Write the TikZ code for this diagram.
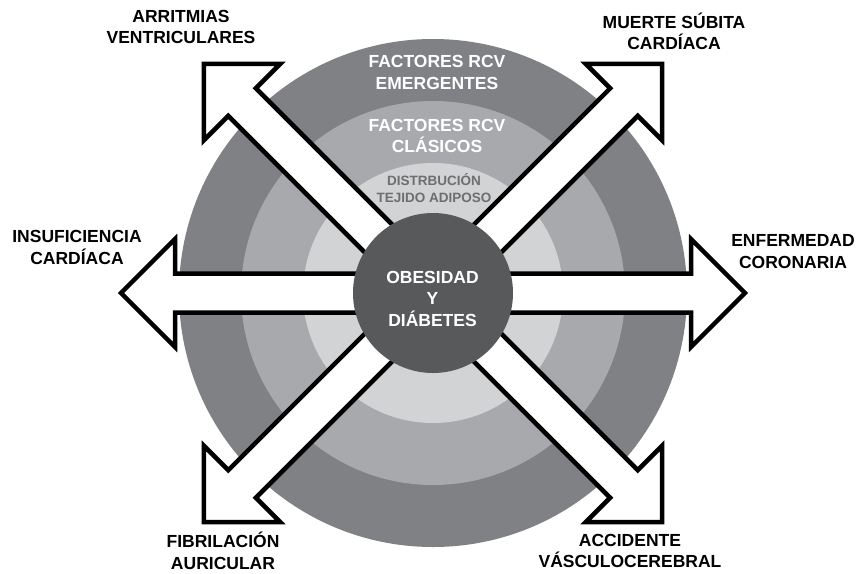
\documentclass[tikz,border=0pt]{standalone}
\usepackage{fontspec}
\setmainfont{Liberation Sans}
\definecolor{ringA}{HTML}{808184}
\definecolor{ringB}{HTML}{A7A9AC}
\definecolor{ringC}{HTML}{D1D3D4}
\definecolor{core}{HTML}{58595B}
\definecolor{innertext}{HTML}{6D6E71}
\tikzset{
  outlabel/.style={align=center, inner sep=0pt, font=\bfseries\fontsize{17.5}{21.5}\selectfont, text=black},
  ringlabel/.style={align=center, inner sep=0pt, font=\bfseries\fontsize{17.5}{21.5}\selectfont, text=white},
  smalllabel/.style={align=center, inner sep=0pt, font=\bfseries\fontsize{13.5}{16.5}\selectfont, text=innertext},
  arrowshape/.style={draw=black, fill=white, line width=4.5pt, line join=miter},
}
\newcommand{\bigarrow}[2]{%
  \begin{scope}[shift={(433,293)}, rotate=#1]
    \filldraw[arrowshape] (0,-19.5) -- (#2-54,-19.5) -- (#2-54,-54) -- (#2,0) -- (#2-54,54) -- (#2-54,19.5) -- (0,19.5) -- cycle;
  \end{scope}}
\begin{document}
\begin{tikzpicture}[x=1pt, y=-1pt]
\useasboundingbox (0,0) rectangle (864,573);
% rings
\coordinate (c) at (433,293);
\fill[ringA] (c) circle[radius=254];
\fill[ringB] (c) circle[radius=192];
\fill[ringC] (c) circle[radius=130];
% ring texts
\node[ringlabel] (emerg) at (437,72.5) {FACTORES RCV\\EMERGENTES};
\node[ringlabel] (clas) at (437,136) {FACTORES RCV\\CLÁSICOS};
\node[smalllabel] (dist) at (434,188) {DISTRBUCIÓN\\TEJIDO ADIPOSO};
% arrows
\bigarrow{0}{312}
\bigarrow{180}{312}
\bigarrow{45}{324}
\bigarrow{135}{324}
\bigarrow{225}{324}
\bigarrow{315}{324}
% core
\fill[core] (c) circle[radius=80];
\node[ringlabel] (core) at (432.5,298.5) {OBESIDAD\\Y\\DIÁBETES};
% outer labels
\node[outlabel] (arr) at (181,27) {ARRITMIAS\\VENTRICULARES};
\node[outlabel] (muer) at (674,31.5) {MUERTE SÚBITA\\CARDÍACA};
\node[outlabel] (insu) at (77,247.5) {INSUFICIENCIA\\CARDÍACA};
\node[outlabel] (enf) at (793,251.5) {ENFERMEDAD\\CORONARIA};
\node[outlabel] (fib) at (223,551) {FIBRILACIÓN\\AURICULAR};
\node[outlabel] (acc) at (630,551) {ACCIDENTE\\VÁSCULOCEREBRAL};
\end{tikzpicture}
\end{document}
